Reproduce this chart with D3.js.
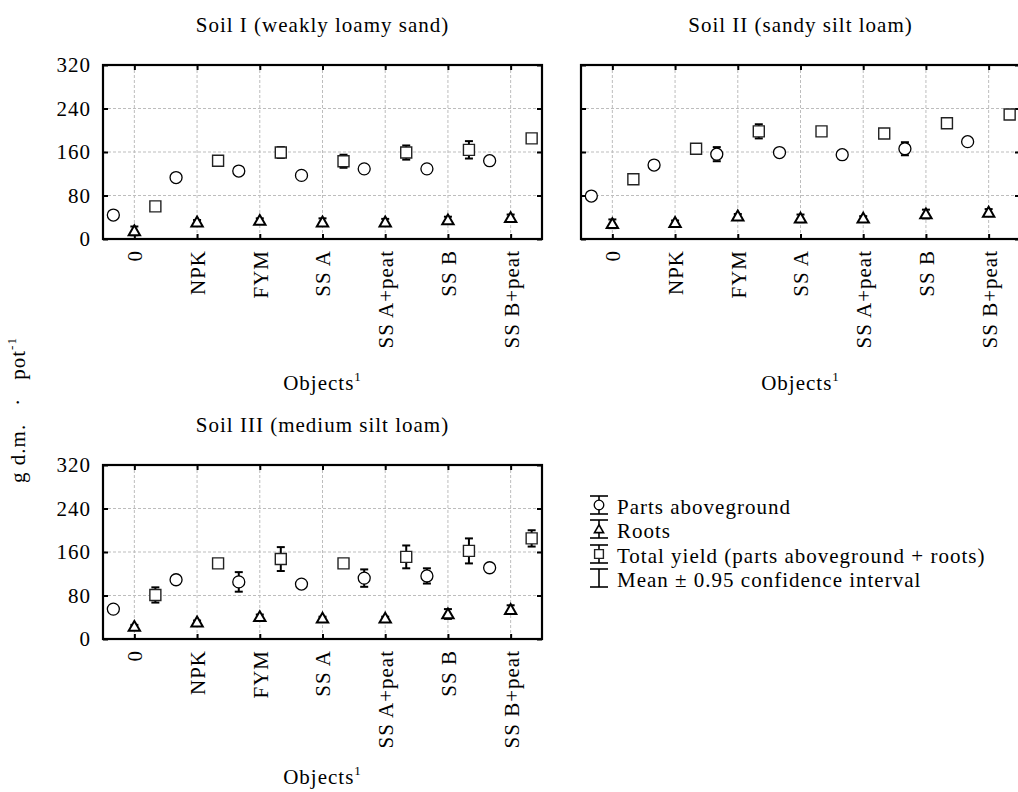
<!DOCTYPE html>
<html>
<head>
<meta charset="utf-8">
<script src="https://cdn.jsdelivr.net/npm/d3@7"></script>
<style>
  body { margin: 0; background: #fff; }
  svg { display: block; font-family: "Liberation Serif", "Times New Roman", serif; }
  text { letter-spacing: 1px; }
</style>
</head>
<body>
<div class="chart-container"></div>
<script>
const width = 1018, height = 792;

// categories / ticks
const categories = ["0", "NPK", "FYM", "SS A", "SS A+peat", "SS B", "SS B+peat"];
const yTicks = [0, 80, 160, 240, 320];

// Soil I
const soil1Above = [44, 113, 125, 117, 129, 129, 144];
const soil1AboveCI = [2, 2, 3, 2, 3, 3, 2];
const soil1Roots = [15, 31, 34, 31, 31, 35, 39];
const soil1RootsCI = [8, 4, 4, 7, 6, 6, 6];
const soil1Total = [60, 144, 159, 143, 159, 164, 185];
const soil1TotalCI = [3, 3, 10, 12, 13, 16, 4];

// Soil II
const soil2Above = [79, 136, 156, 159, 155, 166, 179];
const soil2AboveCI = [2, 2, 13, 2, 2, 12, 2];
const soil2Roots = [28, 30, 42, 38, 38, 46, 49];
const soil2RootsCI = [8, 4, 4, 7, 4, 8, 6];
const soil2Total = [110, 166, 198, 198, 194, 213, 229];
const soil2TotalCI = [2, 2, 13, 2, 2, 2, 2];

// Soil III
const soil3Above = [55, 109, 105, 101, 112, 116, 131];
const soil3AboveCI = [2, 2, 18, 2, 16, 14, 2];
const soil3Roots = [23, 31, 41, 38, 38, 46, 54];
const soil3RootsCI = [3, 3, 4, 3, 3, 9, 8];
const soil3Total = [81, 139, 147, 139, 151, 162, 185];
const soil3TotalCI = [14, 3, 22, 3, 21, 23, 15];

const legendLabels = ["Parts aboveground", "Roots", "Total yield (parts aboveground + roots)", "Mean \u00b1 0.95 confidence interval"];

var svg = d3.select(".chart-container")
    .append("svg")
    .attr("width", width)
    .attr("height", height);

const pw = 439, ph = 174;

const panels = [
  {title: "Soil I (weakly loamy sand)", x: 103, y: 65, yLabels: true, xTitle: 151,
   above: soil1Above, aboveCI: soil1AboveCI, roots: soil1Roots, rootsCI: soil1RootsCI, total: soil1Total, totalCI: soil1TotalCI},
  {title: "Soil II (sandy silt loam)", x: 581, y: 65, yLabels: false, xTitle: 151,
   above: soil2Above, aboveCI: soil2AboveCI, roots: soil2Roots, rootsCI: soil2RootsCI, total: soil2Total, totalCI: soil2TotalCI},
  {title: "Soil III (medium silt loam)", x: 103, y: 465, yLabels: true, xTitle: 145,
   above: soil3Above, aboveCI: soil3AboveCI, roots: soil3Roots, rootsCI: soil3RootsCI, total: soil3Total, totalCI: soil3TotalCI}
];

const x = d3.scaleLinear().domain([-0.5, categories.length - 0.5]).range([0, pw]);
const y = d3.scaleLinear().domain([0, 320]).range([ph, 0]);

const offset = 0.335; // circle left, square right of category

function drawSymbol(g, kind, cx, cy, scale) {
  scale = scale || 1;
  if (kind == "circle") {
    g.append("circle").attr("cx", cx).attr("cy", cy).attr("r", 6 * scale)
      .attr("fill", "#fff").attr("stroke", "#000").attr("stroke-width", 1.3);
  } else if (kind == "triangle") {
    g.append("path").attr("d", d3.symbol().type(d3.symbolTriangle).size(56 * scale * scale)())
      .attr("transform", "translate(" + cx + "," + (cy + 1) + ")")
      .attr("fill", "#fff").attr("stroke", "#000").attr("stroke-width", 2 * scale);
  } else {
    g.append("path").attr("d", d3.symbol().type(d3.symbolSquare).size(121 * scale * scale)())
      .attr("transform", "translate(" + cx + "," + cy + ")")
      .attr("fill", "#fff").attr("stroke", "#222").attr("stroke-width", 1.4);
  }
}

function errBar(g, cx, y0, y1, cap, sw) {
  sw = sw || 2;
  g.append("line").attr("x1", cx).attr("x2", cx).attr("y1", y0).attr("y2", y1)
    .attr("stroke", "#000").attr("stroke-width", sw);
  [y0, y1].forEach(v => {
    g.append("line").attr("x1", cx - cap).attr("x2", cx + cap).attr("y1", v).attr("y2", v)
      .attr("stroke", "#000").attr("stroke-width", sw);
  });
}

panels.forEach(p => {
  var g = svg.append("g").attr("transform", "translate(" + p.x + "," + p.y + ")");

  // title
  g.append("text").attr("x", pw / 2).attr("y", -33)
    .attr("text-anchor", "middle").attr("font-size", 21).text(p.title);

  // grid
  var grid = g.append("g");
  grid.selectAll("line.gx").data(d3.range(categories.length)).enter().append("line")
    .attr("x1", d => x(d)).attr("x2", d => x(d)).attr("y1", 0).attr("y2", ph)
    .attr("stroke", "#bdbdbd").attr("stroke-dasharray", "3,2");
  grid.selectAll("line.gy").data(yTicks.slice(1, -1)).enter().append("line")
    .attr("x1", 0).attr("x2", pw).attr("y1", d => y(d)).attr("y2", d => y(d))
    .attr("stroke", "#bdbdbd").attr("stroke-dasharray", "3,2");

  // axes (ticks inward)
  var yAxis = d3.axisLeft(y).tickValues(yTicks).tickSize(-5).tickPadding(12);
  var ya = g.append("g").call(yAxis);
  if (!p.yLabels) ya.selectAll("text").remove();
  g.append("g").attr("transform", "translate(" + pw + ",0)")
    .call(d3.axisRight(y).tickValues(yTicks).tickSize(-5)).selectAll("text").remove();

  var xAxis = d3.axisBottom(x).tickValues(d3.range(categories.length))
    .tickFormat(i => categories[i]).tickSize(-5);
  var xa = g.append("g").attr("transform", "translate(0," + ph + ")").call(xAxis);
  xa.selectAll("text")
    .attr("transform", "rotate(-90)")
    .attr("text-anchor", "end")
    .attr("x", -11).attr("y", 0).attr("dy", "0.35em");
  g.append("g").call(d3.axisTop(x).tickValues(d3.range(categories.length)).tickSize(-5))
    .selectAll("text").remove();

  g.selectAll(".domain").remove();
  g.selectAll(".tick line").attr("stroke", "#000").attr("stroke-width", 2);
  g.selectAll(".tick text").attr("font-size", 21).attr("fill", "#000")
    .attr("font-family", "'Liberation Serif', serif");

  // frame
  g.append("rect").attr("width", pw).attr("height", ph)
    .attr("fill", "none").attr("stroke", "#000").attr("stroke-width", 2.2);

  // x title
  var xt = g.append("text").attr("x", pw / 2).attr("y", ph + p.xTitle)
    .attr("text-anchor", "middle").attr("font-size", 21);
  xt.append("tspan").text("Objects");
  xt.append("tspan").attr("dy", -9).attr("font-size", 13).text("1");

  // marks
  var marks = g.append("g");
  var series = [
    {vals: p.above, ci: p.aboveCI, off: -offset, kind: "circle"},
    {vals: p.roots, ci: p.rootsCI, off: 0, kind: "triangle"},
    {vals: p.total, ci: p.totalCI, off: offset, kind: "square"}
  ];
  series.forEach(s => {
    s.vals.forEach((v, i) => {
      var cx = x(i + s.off);
      errBar(marks, cx, y(v + s.ci[i]), y(v - s.ci[i]), 4);
    });
  });
  series.forEach(s => {
    s.vals.forEach((v, i) => {
      drawSymbol(marks, s.kind, x(i + s.off), y(v));
    });
  });
});

// y axis label
var yl = svg.append("text")
  .attr("transform", "translate(25,410) rotate(-90)")
  .attr("text-anchor", "middle").attr("font-size", 21);
yl.append("tspan").text("g d.m.");
yl.append("tspan").attr("dx", 18).text("\u00b7");
yl.append("tspan").attr("dx", 18).text("pot");
yl.append("tspan").attr("dy", -9).attr("font-size", 13).text("-1");

// legend
var lg = svg.append("g").attr("transform", "translate(599,0)");
var kinds = ["circle", "triangle", "square", null];
var rowY = [505, 529, 554, 578];
legendLabels.forEach((lab, i) => {
  var cy = rowY[i];
  errBar(lg, 0, cy - 9, cy + 9, 9, 1.6);
  if (kinds[i]) drawSymbol(lg, kinds[i], 0, cy, 0.8);
  lg.append("text").attr("x", 18).attr("y", cy + 2).attr("dy", "0.35em")
    .attr("font-size", 21).text(lab);
});
</script>
</body>
</html>
